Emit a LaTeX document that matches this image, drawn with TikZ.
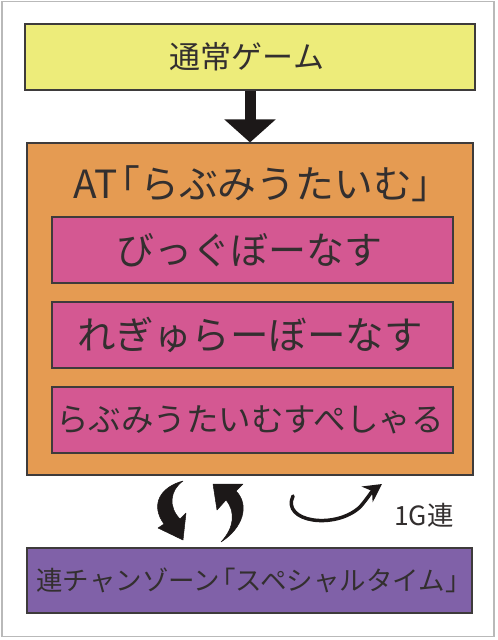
\documentclass[tikz,border=0pt]{standalone}
\usepackage{fontspec}
\setmainfont{Noto Sans CJK JP}
\usetikzlibrary{arrows.meta}
\definecolor{yel}{RGB}{237,236,122}
\definecolor{org}{RGB}{229,155,82}
\definecolor{pnk}{RGB}{212,88,146}
\definecolor{prp}{RGB}{128,97,168}
\definecolor{ink}{RGB}{28,24,24}
\tikzset{
  box/.style={draw=ink!85, line width=1.1pt, inner sep=0pt, anchor=center},
  jtxt/.style={text=ink!90, inner sep=0pt, anchor=center},
  bold arrow/.style={fill=ink, draw=ink, line width=0.5pt, line join=round}
}
\begin{document}
\begin{tikzpicture}[x=1pt,y=-1pt]
\useasboundingbox (0,0) rectangle (498,640);
\draw[gray!55, line width=1.2pt] (2,1.5) rectangle (494,636.5);
% boxes
\node[box, fill=yel, minimum width=450pt, minimum height=66pt] (normal) at (250,57) {};
\node[jtxt, font=\fontsize{31}{36}\selectfont] (normalt) at (247,57) {通常ゲーム};
\node[box, fill=org, minimum width=446pt, minimum height=332pt] (at) at (250,309) {};
\node[jtxt, font=\fontsize{38.8}{44}\selectfont] (att) at (262,184) {AT\kern-0.42em「らぶみうたいむ」};
\node[box, fill=pnk, minimum width=401pt, minimum height=66pt] (big) at (252.5,250) {};
\node[jtxt, font=\fontsize{38}{44}\selectfont] (bigt) at (249,250) {びっぐぼーなす};
\node[box, fill=pnk, minimum width=401pt, minimum height=66pt] (reg) at (252.5,335) {};
\node[jtxt, font=\fontsize{38.5}{44}\selectfont] (regt) at (250,335) {れぎゅらーぼーなす};
\node[box, fill=pnk, minimum width=401pt, minimum height=66pt] (sp) at (252.5,420) {};
\node[jtxt, font=\fontsize{32.5}{38}\selectfont] (spt) at (250,420) {らぶみうたいむすぺしゃる};
\node[box, fill=prp, minimum width=445pt, minimum height=65pt] (ren) at (249.5,580.5) {};
\node[jtxt, font=\fontsize{26.5}{31}\selectfont] (rent) at (254,580) {連チャンゾーン\kern-0.42em「スペシャルタイム」};
\node[jtxt, font=\fontsize{26.5}{31}\selectfont] (g1) at (424,515) {1G連};
% down arrow
\draw[ink, line width=11pt, -{Triangle[length=23pt,width=50pt]}] (normal.south) -- (at.north);
% bold curved arrows
\fill[bold arrow] (183,481) .. controls (160,487) and (150,505) .. (164,524)
  -- (158,528) -- (183,540) -- (186,513) -- (180,519)
  .. controls (168,507) and (170,490) .. (183,481) -- cycle;
\fill[bold arrow] (221,542) .. controls (243,528) and (250,505) .. (236,491)
  -- (243,484) -- (213,484) -- (217,510) -- (226,500)
  .. controls (236,512) and (234,528) .. (221,542) -- cycle;
% 1G loop arrow
\draw[ink, line width=3.5pt, line cap=round, -{Stealth[length=18pt,width=19pt]}]
  (293,496) .. controls (281,522) and (335,530) .. (360,507)
  .. controls (367,499) and (372,491) .. (382,484);
\end{tikzpicture}
\end{document}
